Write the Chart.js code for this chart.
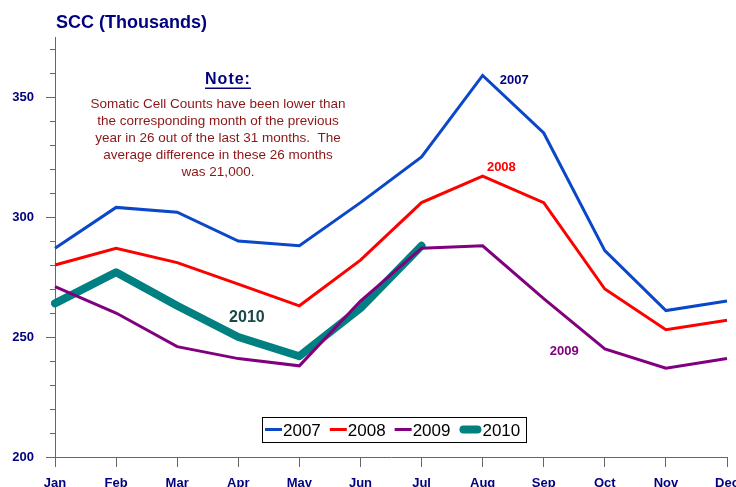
<!DOCTYPE html>
<html>
<head>
<meta charset="utf-8">
<script src="https://cdn.jsdelivr.net/npm/chart.js@4.4.0/dist/chart.umd.min.js"></script>
<style>
  html, body { margin: 0; padding: 0; background: #fff; overflow: hidden; }
  canvas { display: block; }
</style>
</head>
<body>
<canvas id="scc" width="760" height="500"></canvas>
<script>
// values (thousands of cells/ml)
const months = ['Jan', 'Feb', 'Mar', 'Apr', 'May', 'Jun', 'Jul', 'Aug', 'Sep', 'Oct', 'Nov', 'Dec'];
const scc2007 = [287, 304, 302, 290, 288, 306, 325, 359, 335, 286, 261, 265];
const scc2008 = [280, 287, 281, 272, 263, 282, 306, 317, 306, 270, 253, 257];
const scc2009 = [271, 260, 246, 241, 238, 265, 287, 288, 266, 245, 237, 241];
const scc2010 = [264, 277, 263, 250, 242, 262, 288];
const yMajorTicks = [200, 250, 300, 350];
const yMinorTicks = [210, 220, 230, 240, 260, 270, 280, 290, 310, 320, 330, 340, 360, 370];

const noteLines = [
  'Somatic Cell Counts have been lower than',
  'the corresponding month of the previous',
  'year in 26 out of the last 31 months.  The',
  'average difference in these 26 months',
  'was 21,000.'
];

const FONT = '"Liberation Sans", Arial, sans-serif';
const NAVY = '#000080';
const AXIS = '#666666';

// year labels beside the lines, placed in data space (category index, value)
const yearTags = [
  { text: '2007', color: NAVY, size: 13, xi: 7.28, y: 357 },
  { text: '2008', color: '#ff0000', size: 13, xi: 7.07, y: 320.5 },
  { text: '2009', color: '#800080', size: 13, xi: 8.10, y: 244 },
  { text: '2010', color: '#1a4848', size: 16, xi: 2.85, y: 258 }
];

const extras = {
  id: 'extras',
  afterDraw(chart) {
    const ctx = chart.ctx;
    const xs = chart.scales.x, ys = chart.scales.y;
    const left = chart.chartArea.left;
    ctx.save();

    // minor ticks on the value axis
    ctx.strokeStyle = AXIS;
    ctx.lineWidth = 1;
    ctx.beginPath();
    yMinorTicks.forEach(v => {
      const py = Math.round(ys.getPixelForValue(v)) + 0.5;
      ctx.moveTo(left - 5, py);
      ctx.lineTo(left, py);
    });
    ctx.stroke();

    // title
    ctx.fillStyle = NAVY;
    ctx.font = 'bold 18px ' + FONT;
    ctx.textAlign = 'left';
    ctx.textBaseline = 'alphabetic';
    ctx.fillText('SCC (Thousands)', 56, 28);

    // note
    ctx.textAlign = 'center';
    ctx.font = 'bold 16px ' + FONT;
    ctx.letterSpacing = '1px';
    ctx.fillText('Note:', 228, 84);
    const nw = ctx.measureText('Note:').width;
    ctx.fillRect(228 - nw / 2, 87.5, nw, 1.5);
    ctx.letterSpacing = '0px';
    ctx.fillStyle = '#8c1515';
    ctx.font = '13.5px ' + FONT;
    noteLines.forEach((line, i) => ctx.fillText(line, 218, 108 + i * 17));

    // year tags
    ctx.textAlign = 'left';
    ctx.textBaseline = 'middle';
    yearTags.forEach(t => {
      ctx.fillStyle = t.color;
      ctx.font = 'bold ' + t.size + 'px ' + FONT;
      ctx.fillText(t.text, xs.getPixelForValue(t.xi), ys.getPixelForValue(t.y));
    });

    // legend box
    const bx = 262.5, by = 417.5, bw = 264, bh = 25;
    ctx.fillStyle = '#fff';
    ctx.fillRect(bx, by, bw, bh);
    ctx.strokeStyle = '#000';
    ctx.lineWidth = 1;
    ctx.strokeRect(bx, by, bw, bh);
    ctx.font = '17px ' + FONT;
    ctx.textBaseline = 'alphabetic';
    let x = 265;
    chart.data.datasets.forEach(ds => {
      const len = ds.borderWidth > 4 ? 22 : 17;
      const cap = ds.borderCapStyle === 'round' ? ds.borderWidth / 2 : 0;
      ctx.strokeStyle = ds.borderColor;
      ctx.lineWidth = ds.borderWidth;
      ctx.lineCap = ds.borderCapStyle || 'butt';
      ctx.beginPath();
      ctx.moveTo(x + cap, 429.5);
      ctx.lineTo(x + len - cap, 429.5);
      ctx.stroke();
      ctx.fillStyle = '#000';
      ctx.fillText(ds.label, x + len + 1, 435.5);
      x += len + 1 + ctx.measureText(ds.label).width + 9;
    });
    ctx.restore();
  }
};

new Chart(document.getElementById('scc'), {
  type: 'line',
  data: {
    labels: months,
    datasets: [
      { label: '2007', data: scc2007, borderColor: '#0a47c9', borderWidth: 3 },
      { label: '2008', data: scc2008, borderColor: '#ff0000', borderWidth: 3 },
      { label: '2009', data: scc2009, borderColor: '#800080', borderWidth: 3 },
      { label: '2010', data: scc2010, borderColor: '#008080', borderWidth: 8,
        borderCapStyle: 'round', borderJoinStyle: 'round' }
    ]
  },
  options: {
    responsive: false,
    animation: false,
    layout: { padding: { top: 37, right: 33, left: 0, bottom: 0 } },
    elements: { point: { radius: 0, hoverRadius: 0 }, line: { tension: 0, fill: false } },
    plugins: {
      legend: { display: false },
      tooltip: { enabled: false },
      title: { display: false }
    },
    scales: {
      x: {
        offset: false,
        grid: { drawOnChartArea: false, tickLength: 10, color: AXIS },
        border: { color: AXIS },
        ticks: {
          color: NAVY,
          font: { family: FONT, size: 13, weight: 'bold' },
          padding: 9,
          maxRotation: 0,
          autoSkip: false
        },
        afterFit: s => { s.height = 43; }
      },
      y: {
        min: 200,
        max: 375,
        afterBuildTicks: s => { s.ticks = yMajorTicks.map(v => ({ value: v })); },
        grid: { drawOnChartArea: false, tickLength: 9, color: AXIS },
        border: { color: AXIS },
        ticks: {
          color: NAVY,
          font: { family: FONT, size: 13, weight: 'bold' },
          padding: 12
        },
        afterFit: s => { s.width = 55; }
      }
    }
  },
  plugins: [extras]
});
</script>
</body>
</html>
